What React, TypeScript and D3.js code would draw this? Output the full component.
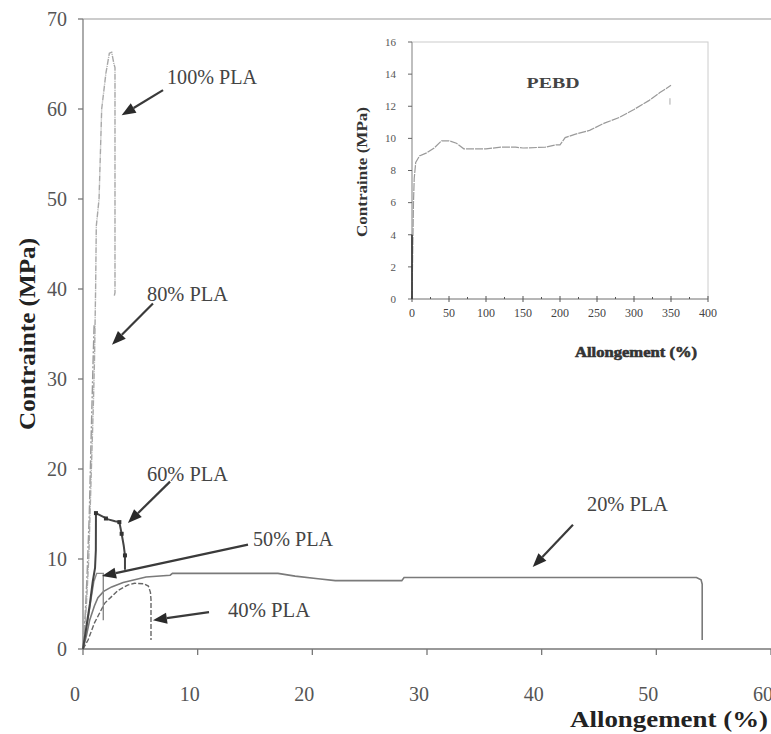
import React from "react";
import * as d3 from "d3";

// ---------- Data (main chart) ----------
type P = [number, number];
const xTicks = [0, 10, 20, 30, 40, 50, 60];
const yTicks = [0, 10, 20, 30, 40, 50, 60, 70];

const pla100: P[] = [[0,0],[0.3,5],[0.5,10],[0.73,20],[0.9,27],[1.0,32],[1.1,40],[1.16,47],[1.4,50],[1.63,60],[2.0,64],[2.3,66.2],[2.5,66.3],[2.7,65],[2.79,64.6],[2.79,39.6],[2.72,39.2]];
const pla80: P[] = [[0,0],[0.2,4],[0.35,8],[0.55,15],[0.68,22],[0.8,28],[0.9,33],[0.97,36],[1.02,35.5]];
const pla60: P[] = [[0,0],[0.3,2.5],[0.6,5],[0.85,7.5],[1.05,9],[1.12,11],[1.13,15.1],[1.6,14.8],[2.2,14.4],[2.8,14.2],[3.17,14.1],[3.37,12.8],[3.55,11.5],[3.66,10.4],[3.66,8.8]];
const pla60Marks: P[] = [[1.13,15.1],[2.0,14.5],[3.17,14.1],[3.37,12.8],[3.66,10.4]];
const pla50: P[] = [[0,0],[0.4,3],[0.7,5.5],[0.95,7.5],[1.19,8.4],[1.77,8.4],[1.77,3.2]];
const pla40: P[] = [[0,0],[0.44,1.0],[1.0,2.9],[1.9,5.1],[3.05,6.5],[3.9,7.1],[4.5,7.3],[5.3,7.25],[5.7,7.0],[5.88,6.3],[5.93,5.5],[5.93,1.0]];
const pla20: P[] = [[0,0],[0.3,1.5],[0.58,3.2],[1.0,4.8],[1.3,5.7],[1.8,6.4],[2.5,6.9],[3.5,7.4],[4.5,7.7],[5.5,8.0],[7.6,8.2],[7.8,8.4],[12,8.4],[17,8.4],[18.5,8.1],[20.5,7.8],[22,7.6],[27.8,7.6],[28,7.95],[40,7.95],[53.5,7.95],[53.9,7.7],[54,7.2],[54,1.0]];

// annotations: label, label pos (x, y baseline), arrow tail, arrow tip, label width
const labelNames = ["100% PLA", "80% PLA", "60% PLA", "50% PLA", "40% PLA", "20% PLA"];
const labelPos: P[] = [[7.33,62.8],[5.58,38.7],[5.58,18.7],[14.83,11.4],[12.65,3.6],[43.95,15.3]];
const arrowTail: P[] = [[6.98,62.1],[6.10,38.4],[7.59,18.6],[14.39,11.6],[10.99,4.1],[42.73,13.8]];
const arrowTip: P[] = [[3.37,59.3],[2.53,33.8],[3.92,14.0],[1.66,8.1],[6.10,3.2],[39.22,9.1]];
const labelWidths = [90, 81, 81, 80, 82, 81];

// ---------- Data (inset PEBD) ----------
const insetXTicks = [0, 50, 100, 150, 200, 250, 300, 350, 400];
const insetXMinor = [25, 75, 125, 175, 225, 275, 325, 375];
const insetYTicks = [0, 2, 4, 6, 8, 10, 12, 14, 16];
const pebd: P[] = [[0,0],[1,3],[2,6],[3,7.5],[5,8.5],[10,8.9],[20,9.1],[30,9.4],[40,9.85],[50,9.85],[60,9.7],[70,9.35],[80,9.35],[100,9.35],[120,9.45],[140,9.45],[150,9.4],[180,9.45],[195,9.6],[200,9.6],[207,10.05],[220,10.25],[240,10.5],[260,10.95],[280,11.3],[300,11.8],[320,12.35],[335,12.85],[350,13.3]];
const pebdTail: P[] = [[348.6,12.5],[348.6,12.1]];

const SERIF = '"Liberation Serif", "Times New Roman", serif';

export default function App() {
  const W = 771, H = 734;
  const x = d3.scaleLinear().domain([0, 60]).range([83, 771]);
  const y = d3.scaleLinear().domain([0, 70]).range([649, 19]);
  const ix = d3.scaleLinear().domain([0, 400]).range([412, 708]);
  const iy = d3.scaleLinear().domain([0, 16]).range([299, 42]);

  const line = d3.line<P>().x(d => x(d[0])).y(d => y(d[1]));
  const iline = d3.line<P>().x(d => ix(d[0])).y(d => iy(d[1]));

  const arrow = (i: number) => {
    const [tx, ty] = [x(arrowTail[i][0]), y(arrowTail[i][1])];
    const [hx, hy] = [x(arrowTip[i][0]), y(arrowTip[i][1])];
    const ang = Math.atan2(hy - ty, hx - tx);
    const L = 14, Wd = 5.5;
    const bx = hx - L * Math.cos(ang), by = hy - L * Math.sin(ang);
    const px = -Math.sin(ang) * Wd, py = Math.cos(ang) * Wd;
    return (
      <g key={"a" + i}>
        <line x1={tx} y1={ty} x2={bx} y2={by} stroke="#3a3a3a" strokeWidth={2.2} />
        <path d={`M${hx},${hy}L${bx + px},${by + py}L${bx - px},${by - py}Z`} fill="#2a2a2a" />
      </g>
    );
  };

  return (
    <svg width={W} height={H} style={{ position: "absolute", left: 0, top: 0, background: "#fff" }}>
      <rect x={0} y={0} width={W} height={H} fill="#fff" />
      {/* main frame */}
      <line x1={x(0)} y1={y(70)} x2={x(60)} y2={y(70)} stroke="#bbb" strokeWidth={1.5} />
      <line x1={x(0)} y1={y(0)} x2={x(60)} y2={y(0)} stroke="#777" strokeWidth={1.6} />
      <line x1={x(0)} y1={y(0)} x2={x(0)} y2={y(70)} stroke="#888" strokeWidth={1.4} />
      {yTicks.map(t => (
        <g key={"yt" + t}>
          <line x1={x(0) - 5} x2={x(0)} y1={y(t)} y2={y(t)} stroke="#777" strokeWidth={1.3} />
          <text x={67} y={y(t)} dy="0.35em" textAnchor="end" fontFamily={SERIF} fontSize={20} fill="#555">{t}</text>
        </g>
      ))}
      {xTicks.map(t => (
        <g key={"xt" + t}>
          <line x1={x(t)} x2={x(t)} y1={y(0)} y2={y(0) + 6} stroke="#777" strokeWidth={1.3} />
          <text x={x(t) - 8} y={694} dy="0.35em" textAnchor="middle" fontFamily={SERIF} fontSize={20} fill="#555">{t}</text>
        </g>
      ))}
      <text x={669} y={727} textAnchor="middle" fontFamily={SERIF} fontWeight="bold" fontSize={24} fill="#222" textLength={198} lengthAdjust="spacingAndGlyphs">Allongement (%)</text>
      <text transform="translate(35,334) rotate(-90)" textAnchor="middle" fontFamily={SERIF} fontWeight="bold" fontSize={24} fill="#222" textLength={192} lengthAdjust="spacingAndGlyphs">Contrainte (MPa)</text>

      {/* curves */}
      <path d={line(pla20) || ""} fill="none" stroke="#7a7a7a" strokeWidth={1.6} />
      <path d={line(pla40) || ""} fill="none" stroke="#666" strokeWidth={1.4} strokeDasharray="5,2" />
      <path d={line(pla50) || ""} fill="none" stroke="#8a8a8a" strokeWidth={1.4} />
      <path d={line(pla80) || ""} fill="none" stroke="#999" strokeWidth={1.4} strokeDasharray="9,2,2,2" />
      <path d={line(pla100) || ""} fill="none" stroke="#a8a8a8" strokeWidth={1.4} strokeDasharray="6,1,1,1" />
      <path d={line(pla60) || ""} fill="none" stroke="#444" strokeWidth={2} />
      {pla60Marks.map((d, i) => (
        <rect key={"m" + i} x={x(d[0]) - 2} y={y(d[1]) - 2} width={4} height={4} fill="#333" />
      ))}

      {/* annotations */}
      {labelNames.map((_, i) => arrow(i))}
      {labelNames.map((n, i) => (
        <text key={"l" + i} x={x(labelPos[i][0])} y={y(labelPos[i][1])} fontFamily={SERIF} fontSize={21} fill="#444" textLength={labelWidths[i]} lengthAdjust="spacingAndGlyphs">{n}</text>
      ))}

      {/* inset */}
      <rect x={ix(0)} y={iy(16)} width={ix(400) - ix(0)} height={iy(0) - iy(16)} fill="none" stroke="#ccc" strokeWidth={1} />
      <line x1={ix(0)} x2={ix(400)} y1={iy(0)} y2={iy(0)} stroke="#888" strokeWidth={1.2} />
      <line x1={ix(0)} x2={ix(0)} y1={iy(0)} y2={iy(16)} stroke="#999" strokeWidth={1} />
      {insetXTicks.map(t => (
        <g key={"ixt" + t}>
          <line x1={ix(t)} x2={ix(t)} y1={iy(0) - 3} y2={iy(0) + 3} stroke="#555" strokeWidth={1} />
          <text x={ix(t)} y={313} dy="0.35em" textAnchor="middle" fontFamily={SERIF} fontSize={12} fill="#444">{t}</text>
        </g>
      ))}
      {insetXMinor.map(t => (
        <line key={"ixm" + t} x1={ix(t)} x2={ix(t)} y1={iy(0) - 2} y2={iy(0)} stroke="#555" strokeWidth={1} />
      ))}
      {insetYTicks.map(t => (
        <g key={"iyt" + t}>
          <line x1={ix(0) - 4} x2={ix(0)} y1={iy(t)} y2={iy(t)} stroke="#666" strokeWidth={1} />
          <text x={396} y={iy(t)} dy="0.35em" textAnchor="end" fontFamily={SERIF} fontSize={11} fill="#555">{t}</text>
        </g>
      ))}
      <path d={iline(pebd) || ""} fill="none" stroke="#9a9a9a" strokeWidth={1.2} strokeDasharray="8,1" />
      <path d={iline(pebdTail) || ""} fill="none" stroke="#aaa" strokeWidth={1} />
      <line x1={ix(0)} x2={ix(0)} y1={iy(0)} y2={iy(4)} stroke="#333" strokeWidth={1.6} />
      <text x={553} y={83} dy="0.35em" textAnchor="middle" fontFamily={SERIF} fontWeight="bold" fontSize={14} fill="#444" textLength={53} lengthAdjust="spacingAndGlyphs">PEBD</text>
      <text x={636} y={352} dy="0.35em" textAnchor="middle" fontFamily={SERIF} fontWeight="bold" fontSize={15} fill="#333" stroke="#333" strokeWidth={0.6} textLength={122} lengthAdjust="spacingAndGlyphs">Allongement (%)</text>
      <text transform="translate(367,172) rotate(-90)" textAnchor="middle" fontFamily={SERIF} fontWeight="bold" fontSize={15} fill="#333" textLength={130} lengthAdjust="spacingAndGlyphs">Contrainte (MPa)</text>
    </svg>
  );
}
